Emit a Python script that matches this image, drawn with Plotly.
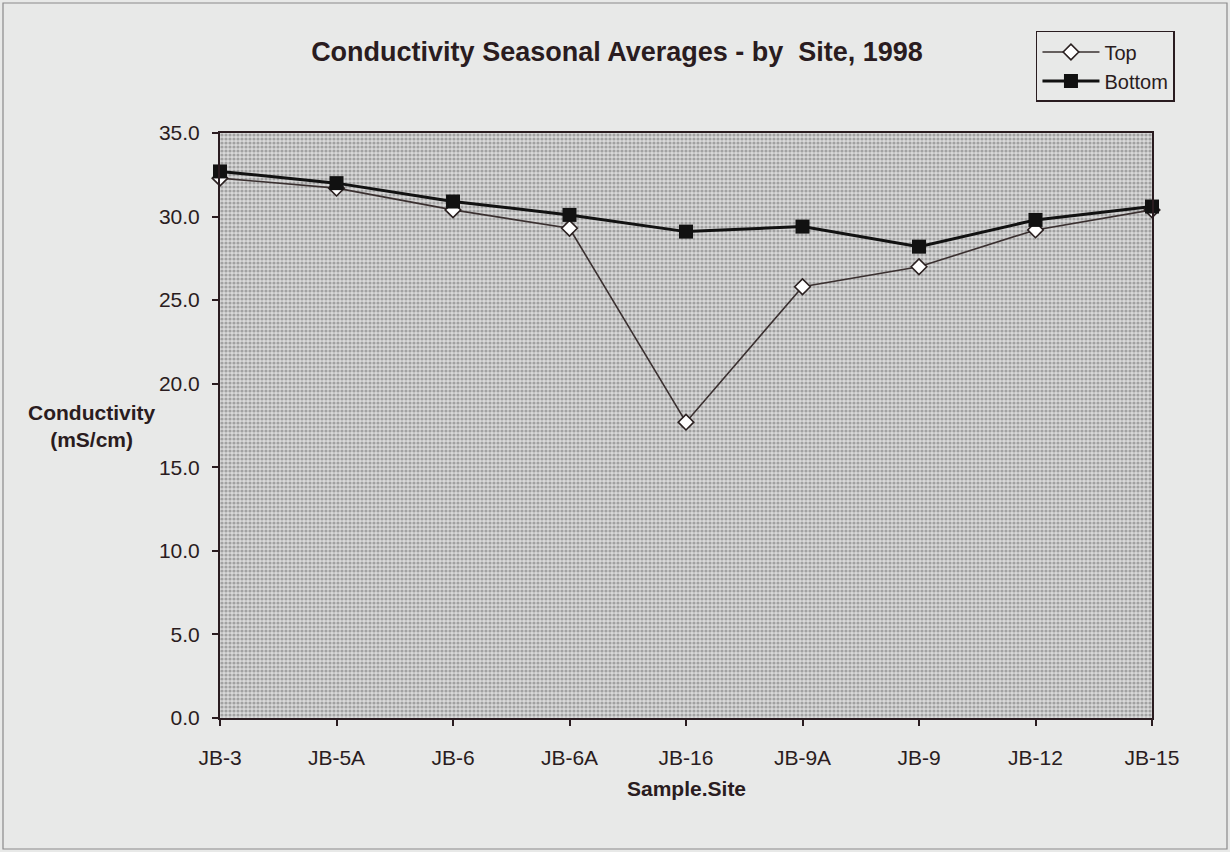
import plotly.graph_objects as go

# Seasonal average conductivity (mS/cm) at each sampling site, 1998
sites = ["JB-3", "JB-5A", "JB-6", "JB-6A", "JB-16", "JB-9A", "JB-9", "JB-12", "JB-15"]
top = [32.3, 31.7, 30.4, 29.3, 17.7, 25.8, 27.0, 29.2, 30.4]
bottom = [32.7, 32.0, 30.9, 30.1, 29.1, 29.4, 28.2, 29.8, 30.6]

Y_MIN, Y_MAX, Y_STEP = 0, 35, 5

INK = "#2a1c20"
PAPER = "#e8e9e8"
FONT = "Liberation Sans, Arial, sans-serif"

fig = go.Figure()

# Stippled plot-area background spanning the full axis range
fig.add_trace(go.Scatter(
    x=[sites[0], sites[-1]], y=[Y_MAX, Y_MAX],
    mode="none", fill="tozeroy",
    fillpattern=dict(shape=".", bgcolor="#d9d9d9", fgcolor="#6a6a6a", size=4, solidity=0.5),
    hoverinfo="skip", showlegend=False,
))

fig.add_trace(go.Scatter(
    x=sites, y=top, name="Top", mode="lines+markers",
    line=dict(color="#3a3030", width=1.6),
    marker=dict(symbol="diamond", size=12, color="white", line=dict(color="#2a2020", width=1.6)),
    cliponaxis=False,
))

fig.add_trace(go.Scatter(
    x=sites, y=bottom, name="Bottom", mode="lines+markers",
    line=dict(color="#111111", width=3),
    marker=dict(symbol="square", size=14, color="#111111"),
    cliponaxis=False,
))

fig.update_layout(
    width=1230, height=852,
    margin=dict(l=220, r=78, t=133, b=134),
    paper_bgcolor=PAPER,
    plot_bgcolor="#d0d0d0",
    font=dict(family=FONT, size=21, color=INK),
    title=dict(
        text="<b>Conductivity Seasonal Averages - by  Site, 1998</b>",
        font=dict(size=27, color=INK),
        xref="container", x=617 / 1230, xanchor="center",
        yref="container", y=1 - 52 / 852, yanchor="middle",
    ),
    legend=dict(
        x=0.8755, y=1.1744, xanchor="left", yanchor="top",
        bgcolor=PAPER, bordercolor=INK, borderwidth=1.5,
        font=dict(size=20, color=INK), itemwidth=57,
        tracegroupgap=0,
    ),
    showlegend=True,
)

fig.update_xaxes(
    type="category", categoryorder="array", categoryarray=sites,
    range=[0, len(sites) - 1],
    showline=True, linecolor=INK, linewidth=2, mirror=True,
    ticks="outside", ticklen=6, tickcolor=INK, tickwidth=1.5,
    ticklabelstandoff=14, showgrid=False, zeroline=False,
    tickfont=dict(size=21, color=INK),
)

fig.update_yaxes(
    range=[Y_MIN, Y_MAX], dtick=Y_STEP, tick0=0, tickformat=".1f",
    showline=True, linecolor=INK, linewidth=2, mirror=True,
    ticks="outside", ticklen=6, tickcolor=INK, tickwidth=1.5,
    ticklabelstandoff=8, showgrid=False, zeroline=False,
    tickfont=dict(size=21, color=INK),
)

# Axis titles
fig.add_annotation(
    text="<b>Conductivity</b><br><b>(mS/cm)</b>",
    xref="paper", yref="paper", x=-0.1384, y=0.499,
    xanchor="center", yanchor="middle", showarrow=False,
    font=dict(size=21, color=INK), align="center",
)
fig.add_annotation(
    text="<b>Sample.Site</b>",
    xref="paper", yref="paper", x=0.5, y=-0.1197,
    xanchor="center", yanchor="middle", showarrow=False,
    font=dict(size=21, color=INK),
)

# Thin outer frame around the chart
fig.add_shape(
    type="rect", xref="paper", yref="paper",
    x0=(3 - 220) / 932, x1=(1227 - 220) / 932,
    y0=(718 - 849) / 585, y1=(718 - 3) / 585,
    line=dict(color="#8a8a8a", width=1.2), fillcolor="rgba(0,0,0,0)", layer="below",
)

fig.write_html("out.html")
